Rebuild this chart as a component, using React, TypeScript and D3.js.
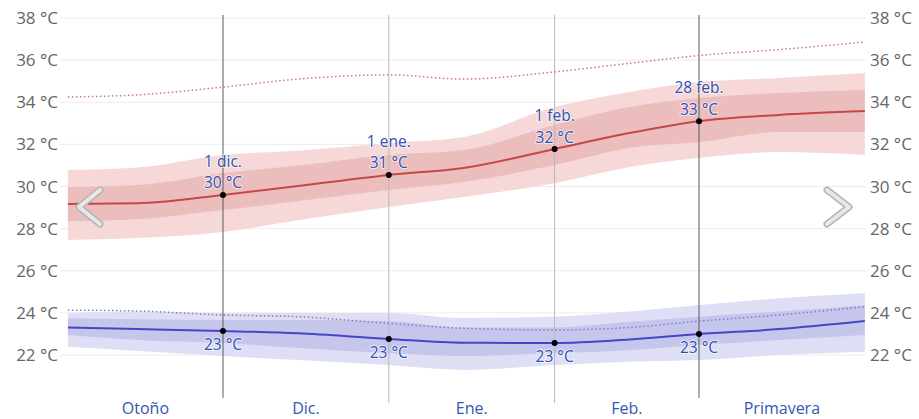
import React, { useEffect, useRef } from 'react';
import * as d3 from 'd3';

// sample dates along the season
const dates = ['2022-11-02', '2022-11-15', '2022-12-01', '2022-12-15', '2023-01-01', '2023-01-15', '2023-02-01', '2023-02-15', '2023-02-28', '2023-03-15', '2023-03-31'];

// daily high temperature
const highMedian = [29.17, 29.2, 29.6, 30.02, 30.55, 30.88, 31.78, 32.54, 33.1, 33.4, 33.58];
const highP25 = [28.36, 28.45, 28.88, 29.31, 29.83, 30.21, 31.02, 31.83, 32.11, 32.59, 32.59];
const highP75 = [29.98, 30.07, 30.64, 31.0, 31.5, 31.73, 32.92, 33.77, 34.2, 34.44, 34.58];
const highP10 = [27.46, 27.55, 27.84, 28.4, 29.03, 29.5, 30.16, 30.93, 31.35, 31.64, 31.5];
const highP90 = [30.78, 30.9, 31.5, 31.7, 32.06, 32.35, 33.77, 34.49, 34.96, 35.15, 35.39];
const highDotted = [34.25, 34.35, 34.72, 35.1, 35.3, 35.1, 35.44, 35.85, 36.22, 36.5, 36.86];

// daily low temperature
const lowMedian = [23.3, 23.23, 23.14, 23.03, 22.76, 22.58, 22.57, 22.74, 23.0, 23.23, 23.61];
const lowP25 = [22.95, 22.71, 22.57, 22.33, 22.09, 21.95, 22.09, 22.23, 22.47, 22.71, 22.95];
const lowP75 = [23.74, 23.7, 23.66, 23.66, 23.62, 23.3, 23.31, 23.58, 23.82, 24.06, 24.37];
const lowP10 = [22.39, 22.19, 21.95, 21.76, 21.52, 21.29, 21.52, 21.68, 21.76, 22.0, 22.16];
const lowP90 = [24.0, 24.06, 24.0, 24.0, 24.0, 23.76, 23.82, 24.06, 24.37, 24.69, 24.93];
const lowDotted = [24.13, 24.09, 23.9, 23.82, 23.5, 23.27, 23.19, 23.31, 23.61, 23.9, 24.29];

const yTicks = [22, 24, 26, 28, 30, 32, 34, 36, 38];
const markerDates = ['2022-12-01', '2023-01-01', '2023-02-01', '2023-02-28'];
const strongLines = ['2022-12-01', '2023-02-28'];
const monthNames = ['ene.', 'feb.', 'mar.', 'abr.', 'may.', 'jun.', 'jul.', 'ago.', 'sept.', 'oct.', 'nov.', 'dic.'];
const periodLabels = ['Otoño', 'Dic.', 'Ene.', 'Feb.', 'Primavera'];
const periodBounds = ['2022-11-02', '2022-12-01', '2023-01-01', '2023-02-01', '2023-02-28', '2023-03-31'];

const W = 919;
const H = 419;
const FONT = '"Open Sans", "Noto Sans", sans-serif';

const App: React.FC = () => {
  const ref = useRef<SVGSVGElement>(null);

  useEffect(() => {
    if (!ref.current) return;
    const svg = d3.select(ref.current);
    svg.selectAll('*').remove();

    const parse = d3.timeParse('%Y-%m-%d');
    const t = dates.map(d => parse(d)!);

    const x = d3.scaleTime()
      .domain([parse('2022-12-01')!, parse('2023-02-28')!])
      .range([223, 699]);
    const y = d3.scaleLinear().domain([22, 38]).range([355, 18]);

    const gridX0 = 60;
    const gridX1 = 866;

    // gridlines + labels on both sides
    yTicks.forEach(v => {
      svg.append('line')
        .attr('x1', gridX0).attr('x2', gridX1)
        .attr('y1', y(v)).attr('y2', y(v))
        .attr('stroke', '#ececec').attr('stroke-width', 1);
      svg.append('text')
        .attr('x', 58).attr('y', y(v)).attr('dy', '0.36em')
        .attr('text-anchor', 'end')
        .style('font-family', FONT).style('font-size', '17px').style('fill', '#666')
        .text(`${v} °C`);
      svg.append('text')
        .attr('x', 870).attr('y', y(v)).attr('dy', '0.36em')
        .attr('text-anchor', 'start')
        .style('font-family', FONT).style('font-size', '17px').style('fill', '#666')
        .text(`${v} °C`);
    });

    const band = (lo: number[], hi: number[]) => d3.area<number>()
      .x((_, i) => x(t[i]))
      .y0((_, i) => y(lo[i]))
      .y1((_, i) => y(hi[i]))
      .curve(d3.curveMonotoneX)(lo);

    const line = (vals: number[]) => d3.line<number>()
      .x((_, i) => x(t[i]))
      .y(d => y(d))
      .curve(d3.curveMonotoneX)(vals);

    // bands
    svg.append('path').attr('d', band(highP10, highP90)!).attr('fill', '#f6d8d8');
    svg.append('path').attr('d', band(highP25, highP75)!).attr('fill', '#ecbdbd');
    svg.append('path').attr('d', band(lowP10, lowP90)!).attr('fill', '#dedff4');
    svg.append('path').attr('d', band(lowP25, lowP75)!).attr('fill', '#c6c6ec');

    // vertical marker lines
    markerDates.forEach(d => {
      const strong = strongLines.includes(d);
      const xv = x(parse(d)!);
      svg.append('line')
        .attr('x1', xv).attr('x2', xv)
        .attr('y1', 15).attr('y2', strong ? 398 : 403)
        .attr('stroke', strong ? '#5a5a5a' : '#b8b8b8')
        .attr('stroke-width', 1);
    });

    // dotted extreme lines
    svg.append('path').attr('d', line(highDotted)!)
      .attr('fill', 'none').attr('stroke', '#c77b7b').attr('stroke-width', 1.5)
      .attr('stroke-dasharray', '1.5,2.5');
    svg.append('path').attr('d', line(lowDotted)!)
      .attr('fill', 'none').attr('stroke', '#7d7dc9').attr('stroke-width', 1.5)
      .attr('stroke-dasharray', '1.5,2.5');

    // median lines
    svg.append('path').attr('d', line(highMedian)!)
      .attr('fill', 'none').attr('stroke', '#c44848').attr('stroke-width', 2);
    svg.append('path').attr('d', line(lowMedian)!)
      .attr('fill', 'none').attr('stroke', '#4545c8').attr('stroke-width', 2);

    // points and labels
    markerDates.forEach(d => {
      const i = dates.indexOf(d);
      const dt = t[i];
      const xv = x(dt);
      const hy = y(highMedian[i]);
      const ly = y(lowMedian[i]);

      svg.append('circle').attr('cx', xv).attr('cy', hy).attr('r', 3).attr('fill', '#000');
      svg.append('circle').attr('cx', xv).attr('cy', ly).attr('r', 3).attr('fill', '#000');

      const lbl = (ty: number, s: string) => svg.append('text')
        .attr('x', xv).attr('y', ty)
        .attr('text-anchor', 'middle')
        .style('font-family', FONT).style('font-size', '15.5px').style('fill', '#2f4fb3')
        .style('paint-order', 'stroke').style('stroke', 'rgba(255,255,255,0.6)').style('stroke-width', '2px')
        .text(s);

      lbl(hy - 28, `${dt.getDate()} ${monthNames[dt.getMonth()]}`);
      lbl(hy - 6.5, `${Math.round(highMedian[i])} °C`);
      lbl(ly + 19, `${Math.round(lowMedian[i])} °C`);
    });

    // season / month labels along the bottom
    periodLabels.forEach((p, i) => {
      const a = x(parse(periodBounds[i])!);
      const b = x(parse(periodBounds[i + 1])!);
      svg.append('text')
        .attr('x', (a + b) / 2).attr('y', 414)
        .attr('text-anchor', 'middle')
        .style('font-family', FONT).style('font-size', '16px').style('fill', '#3358b0')
        .text(p);
    });

    // navigation chevrons
    const chevron = (pts: [number, number][]) => {
      const d = d3.line()(pts)!;
      svg.append('path').attr('d', d).attr('fill', 'none')
        .attr('stroke', '#b4b4b4').attr('stroke-width', 7)
        .attr('stroke-linecap', 'round').attr('stroke-linejoin', 'round');
      svg.append('path').attr('d', d).attr('fill', 'none')
        .attr('stroke', '#e8e8e8').attr('stroke-width', 4)
        .attr('stroke-linecap', 'round').attr('stroke-linejoin', 'round');
    };
    chevron([[100, 190], [79, 207], [100, 224]]);
    chevron([[827, 190], [849, 207], [827, 224]]);
  }, []);

  return (
    <svg
      ref={ref}
      width={W}
      height={H}
      style={{ position: 'absolute', left: 0, top: 0, background: '#fff' }}
    />
  );
};

export default App;
